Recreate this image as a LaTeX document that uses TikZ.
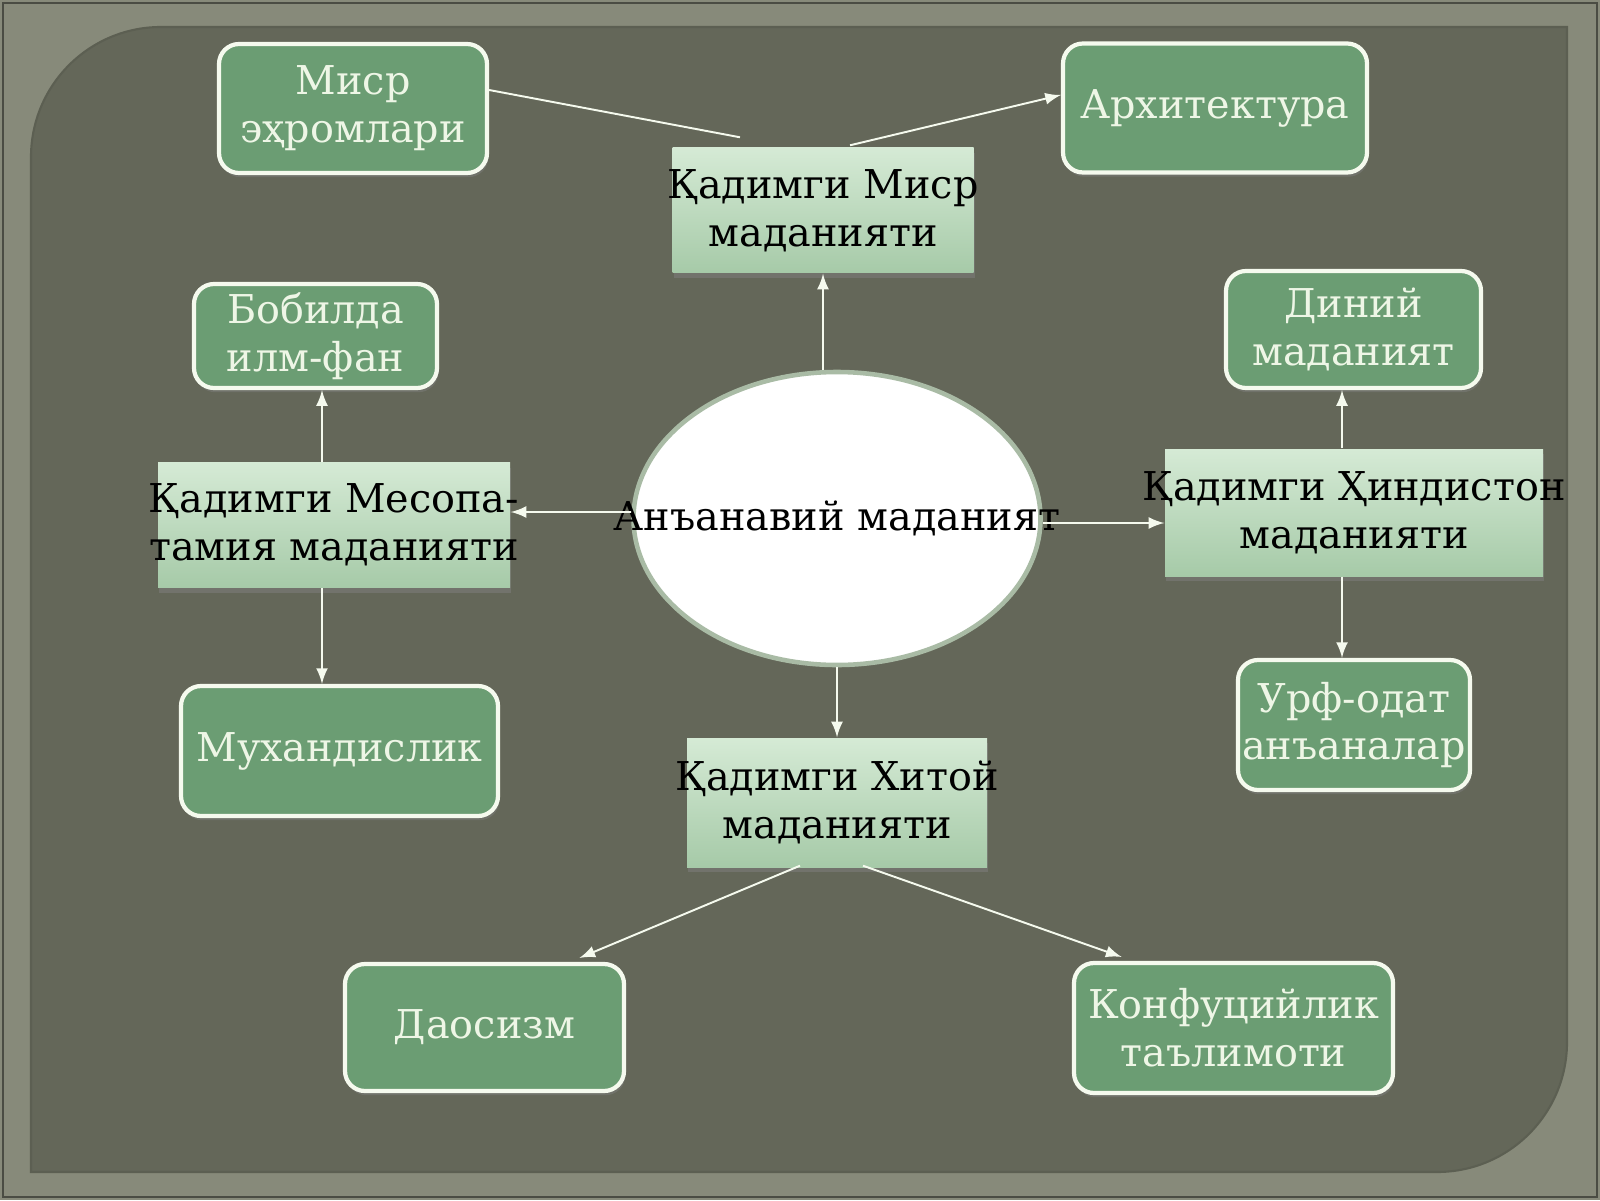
\documentclass[tikz,border=0pt]{standalone}
\usepackage{fontspec}
\setmainfont{DejaVu Serif}
\usepackage{tikz}
\usetikzlibrary{arrows}
\usetikzlibrary{shapes.geometric}
\usetikzlibrary{shadows}
\usetikzlibrary{calc}
\definecolor{framecolor}{HTML}{878A7A}
\definecolor{panelcolor}{HTML}{646759}
\definecolor{paneledge}{HTML}{5C5F52}
\definecolor{boxgreen}{HTML}{6B9D73}
\definecolor{boxline}{HTML}{F5FAEE}
\definecolor{boxtext}{HTML}{EEF6E6}
\definecolor{lighttop}{HTML}{D5EAD5}
\definecolor{lightbottom}{HTML}{A6CAA8}
\definecolor{ellipseline}{HTML}{A9BBA5}

\begin{document}
\begin{tikzpicture}[
  every node/.style={font=\fontsize{11.3}{13.6}\selectfont},
  gbox/.style={draw=boxline, line width=1.2pt, fill=boxgreen, rounded corners=0.2cm,
    text=boxtext, align=center, inner sep=0pt,
    drop shadow={shadow xshift=0.4pt, shadow yshift=-1.2pt, opacity=0.45}},
  lbox/.style={top color=lighttop, bottom color=lightbottom, text=black, align=center,
    inner sep=0pt, drop shadow={shadow xshift=0.4pt, shadow yshift=-1.5pt, opacity=0.5}},
  ellip/.style={ellipse, draw=ellipseline, line width=1.3pt, fill=white, inner sep=0pt},
  gtext/.style={align=center, text=boxtext},
  ltext/.style={align=center, text=black},
  conn/.style={draw=boxline, line width=0.55pt, -latex},
  link/.style={draw=boxline, line width=0.55pt}]
\useasboundingbox (0,0) rectangle (16,12);
% frame and panel
\fill[framecolor] (0,0) rectangle (16,12);
\draw[black!45!framecolor, line width=0.6pt] (0.03,0.03) rectangle (15.97,11.97);
\fill[panelcolor] (0.31,0.28) -- (0.31,10.43) arc[start angle=180, end angle=90, radius=1.3]
  -- (15.67,11.73) -- (15.67,1.58) arc[start angle=0, end angle=-90, radius=1.3] -- cycle;
\draw[paneledge, line width=0.6pt] (0.31,0.28) -- (0.31,10.43) arc[start angle=180, end angle=90, radius=1.3]
  -- (15.67,11.73) -- (15.67,1.58) arc[start angle=0, end angle=-90, radius=1.3] -- cycle;

% centre
\node[ellip, minimum width=4.07cm, minimum height=2.93cm,
  label={[ltext]center:Анъанавий маданият}] (anan) at (8.37,6.815) {};

% Egypt
\node[lbox, minimum width=3.01cm, minimum height=1.25cm,
  label={[ltext]center:Қадимги Миср\\маданияти}] (egypt) at (8.23,9.895) {};
\node[gbox, minimum width=2.68cm, minimum height=1.29cm] (pyr) at (3.53,10.915) {Миср\\эҳромлари};
\node[gbox, minimum width=3.04cm, minimum height=1.29cm] (arch) at (12.15,10.92) {Архитектура};

% Mesopotamia
\node[lbox, minimum width=3.52cm, minimum height=1.25cm,
  label={[ltext]center:Қадимги Месопа-\\тамия маданияти}] (meso) at (3.34,6.75) {};
\node[gbox, minimum width=2.43cm, minimum height=1.04cm] (bobil) at (3.155,8.64) {Бобилда\\илм-фан};
\node[gbox, minimum width=3.17cm, minimum height=1.30cm] (muh) at (3.395,4.49) {Мухандислик};

% India
\node[lbox, minimum width=3.78cm, minimum height=1.27cm,
  label={[ltext]center:Қадимги Ҳиндистон\\маданияти}] (hindi) at (13.54,6.875) {};
\node[gbox, minimum width=2.55cm, minimum height=1.17cm] (diniy) at (13.535,8.705) {Диний\\маданият};
\node[gbox, minimum width=2.32cm, minimum height=1.30cm,
  label={[gtext]center:Урф-одат\\анъаналар}] (urf) at (13.54,4.75) {};

% China
\node[lbox, minimum width=3.00cm, minimum height=1.29cm,
  label={[ltext]center:Қадимги Хитой\\маданияти}] (china) at (8.37,3.975) {};
\node[gbox, minimum width=2.79cm, minimum height=1.27cm] (daos) at (4.845,1.725) {Даосизм};
\node[gbox, minimum width=3.19cm, minimum height=1.30cm] (konf) at (12.335,1.72) {Конфуцийлик\\таълимоти};

% connectors
\draw[conn] (anan.north -| egypt.south) -- (egypt.south);
\coordinate (e1) at ($(egypt.north)+(-0.83,0.10)$);
\coordinate (e2) at ($(egypt.north)+(0.27,0.02)$);
\draw[link] (e1) -- ($(pyr.east)+(0,0.185)$);
\draw[conn] (e2) -- ($(arch.west)+(0,0.13)$);

\draw[conn] ($(anan.west)+(0,0.065)$) -- ($(meso.east)+(0,0.13)$);
\draw[conn] ($(meso.north)+(-0.12,0)$) coordinate (m1) -- (m1 |- bobil.south);
\draw[conn] ($(meso.south)+(-0.12,0)$) coordinate (m2) -- (m2 |- muh.north);

\draw[conn] ($(anan.east)+(0,-0.045)$) -- ($(hindi.west)+(0,-0.105)$);
\draw[conn] ($(hindi.north)+(-0.12,0)$) coordinate (h1) -- (h1 |- diniy.south);
\draw[conn] ($(hindi.south)+(-0.12,0)$) coordinate (h2) -- (h2 |- urf.north);

\draw[conn] (anan.south) -- (china.north);
\draw[conn] ($(china.south)+(-0.37,0.02)$) -- ($(daos.north)+(0.95,0.04)$);
\draw[conn] ($(china.south)+(0.26,0.02)$) -- ($(konf.north)+(-1.12,0.04)$);
\end{tikzpicture}
\end{document}
